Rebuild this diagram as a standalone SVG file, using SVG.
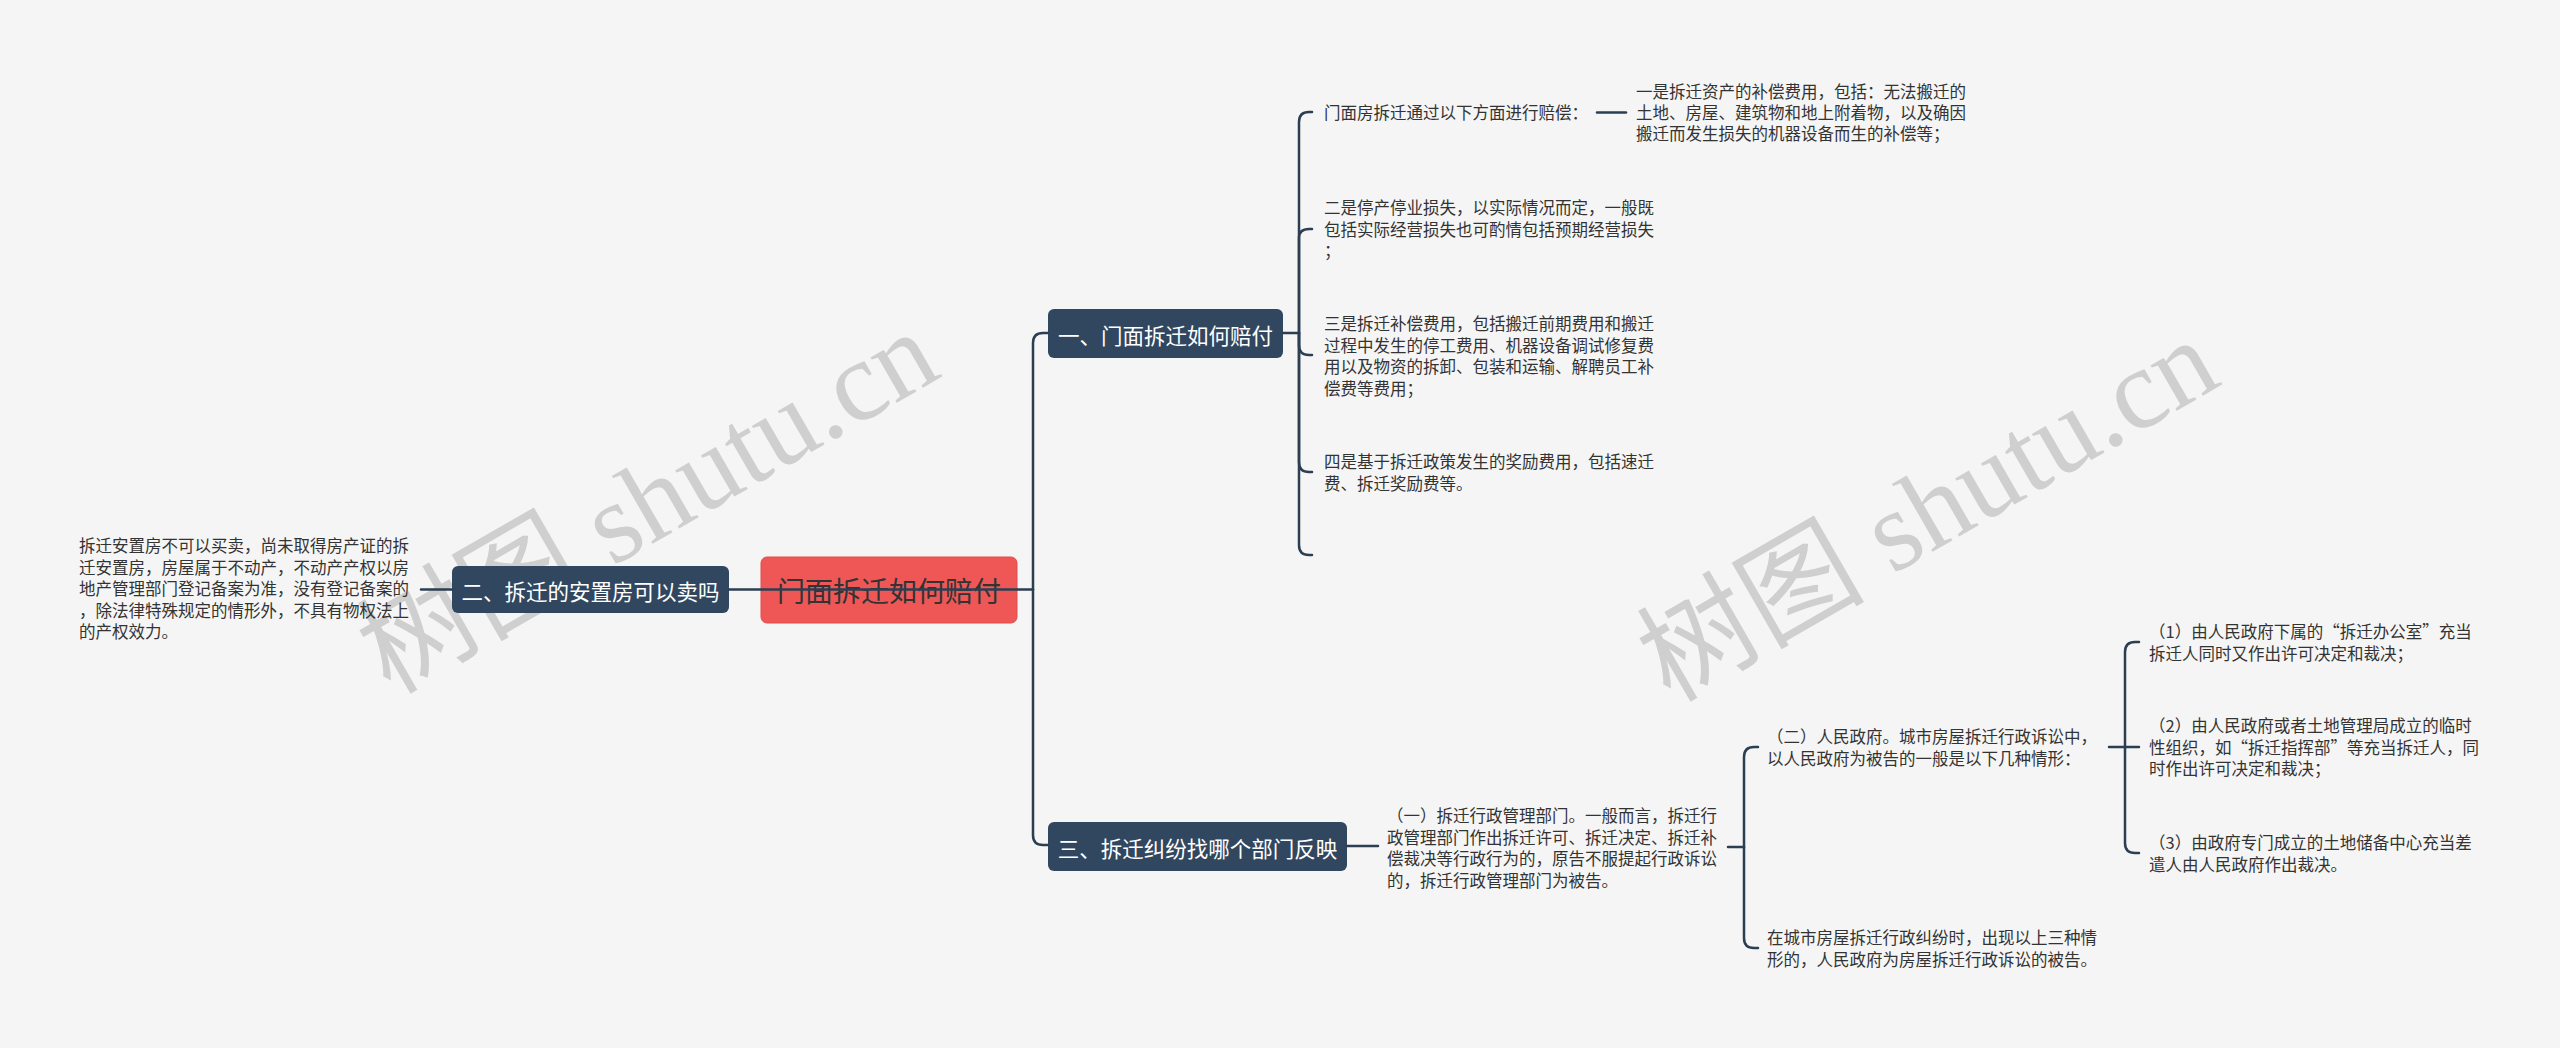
<svg xmlns="http://www.w3.org/2000/svg" width="2560" height="1048" viewBox="0 0 2560 1048">
<style>
.wm{font-family:"Liberation Serif","Noto Sans CJK SC",serif;font-size:114px;fill:#c9c9c9;opacity:0.85}
.leaf{font-family:"Noto Sans CJK SC","Noto Sans",sans-serif;font-size:16.5px;fill:#333}
.br{fill:#30475f}
.brt{font-family:"Noto Sans CJK SC","Noto Sans",sans-serif;font-size:21.5px;fill:#fff;text-anchor:middle;dominant-baseline:central}
.ct{font-family:"Noto Sans CJK SC","Noto Sans",sans-serif;font-size:28px;fill:#333;text-anchor:middle;dominant-baseline:central}
.ln{fill:none;stroke:#2b3e52;stroke-width:2.5;stroke-linecap:round}
</style>
<rect width="2560" height="1048" fill="#f5f5f5"/>
<g id="watermark">
<text class="wm" x="650" y="540" text-anchor="middle" transform="rotate(-30 650 506)">树图 shutu.cn</text>
<text class="wm" x="1930" y="548" text-anchor="middle" transform="rotate(-30 1930 514)">树图 shutu.cn</text>
</g>
<g id="root">
<rect x="761" y="557" width="256" height="66" rx="6" fill="#ef5757" stroke="#e34c4c" stroke-width="1"/>
<text class="ct" x="889" y="590">门面拆迁如何赔付</text>
</g>
<g id="b1">
<rect class="br" x="1048" y="309" width="235" height="49" rx="6"/>
<text class="brt" x="1165.5" y="334">一、门面拆迁如何赔付</text>
</g>
<g id="b2">
<rect class="br" x="452" y="566" width="277" height="47" rx="6"/>
<text class="brt" x="590.5" y="590">二、拆迁的安置房可以卖吗</text>
</g>
<g id="b3">
<rect class="br" x="1048" y="822" width="299" height="49" rx="6"/>
<text class="brt" x="1197.5" y="847">三、拆迁纠纷找哪个部门反映</text>
</g>
<g id="b2c1">
<text class="leaf"><tspan x="79" y="552">拆迁安置房不可以买卖，尚未取得房产证的拆</tspan><tspan x="79" y="573.5">迁安置房，房屋属于不动产，不动产产权以房</tspan><tspan x="79" y="595">地产管理部门登记备案为准，没有登记备案的</tspan><tspan x="79" y="616.5">，除法律特殊规定的情形外，不具有物权法上</tspan><tspan x="79" y="638">的产权效力。</tspan></text>
</g>
<g id="b1c1">
<text class="leaf" x="1324" y="119">门面房拆迁通过以下方面进行赔偿：</text>
</g>
<g id="b1c1c1">
<text class="leaf"><tspan x="1636" y="98">一是拆迁资产的补偿费用，包括：无法搬迁的</tspan><tspan x="1636" y="119">土地、房屋、建筑物和地上附着物，以及确因</tspan><tspan x="1636" y="140">搬迁而发生损失的机器设备而生的补偿等；</tspan></text>
</g>
<g id="b1c2">
<text class="leaf"><tspan x="1324" y="214">二是停产停业损失，以实际情况而定，一般既</tspan><tspan x="1324" y="235.5">包括实际经营损失也可酌情包括预期经营损失</tspan><tspan x="1324" y="257">；</tspan></text>
</g>
<g id="b1c3">
<text class="leaf"><tspan x="1324" y="330">三是拆迁补偿费用，包括搬迁前期费用和搬迁</tspan><tspan x="1324" y="351.5">过程中发生的停工费用、机器设备调试修复费</tspan><tspan x="1324" y="373">用以及物资的拆卸、包装和运输、解聘员工补</tspan><tspan x="1324" y="394.5">偿费等费用；</tspan></text>
</g>
<g id="b1c4">
<text class="leaf"><tspan x="1324" y="468">四是基于拆迁政策发生的奖励费用，包括速迁</tspan><tspan x="1324" y="489.5">费、拆迁奖励费等。</tspan></text>
</g>
<g id="b3c1">
<text class="leaf"><tspan x="1387" y="822">（一）拆迁行政管理部门。一般而言，拆迁行</tspan><tspan x="1387" y="843.5">政管理部门作出拆迁许可、拆迁决定、拆迁补</tspan><tspan x="1387" y="865">偿裁决等行政行为的，原告不服提起行政诉讼</tspan><tspan x="1387" y="886.5">的，拆迁行政管理部门为被告。</tspan></text>
</g>
<g id="b3c1c1">
<text class="leaf"><tspan x="1767" y="743">（二）人民政府。城市房屋拆迁行政诉讼中，</tspan><tspan x="1767" y="764.5">以人民政府为被告的一般是以下几种情形：</tspan></text>
</g>
<g id="b3c1c2">
<text class="leaf"><tspan x="1767" y="944">在城市房屋拆迁行政纠纷时，出现以上三种情</tspan><tspan x="1767" y="965.5">形的，人民政府为房屋拆迁行政诉讼的被告。</tspan></text>
</g>
<g id="g1">
<text class="leaf"><tspan x="2149" y="638">（1）由人民政府下属的“拆迁办公室”充当</tspan><tspan x="2149" y="659.5">拆迁人同时又作出许可决定和裁决；</tspan></text>
</g>
<g id="g2">
<text class="leaf"><tspan x="2149" y="732">（2）由人民政府或者土地管理局成立的临时</tspan><tspan x="2149" y="753.5">性组织，如“拆迁指挥部”等充当拆迁人，同</tspan><tspan x="2149" y="775">时作出许可决定和裁决；</tspan></text>
</g>
<g id="g3">
<text class="leaf"><tspan x="2149" y="849">（3）由政府专门成立的土地储备中心充当差</tspan><tspan x="2149" y="870.5">遣人由人民政府作出裁决。</tspan></text>
</g>
<g id="connectors">
<path class="ln" d="M729 589.5 H1033"/>
<path class="ln" d="M421 589.5 H452"/>
<path class="ln" d="M1033 589.5 V343 Q1033 333 1043 333 H1048"/>
<path class="ln" d="M1033 589.5 V835 Q1033 845 1043 845 H1048"/>
<path class="ln" d="M1283 333 H1299 V122 Q1299 112 1309 112 H1312"/>
<path class="ln" d="M1299 333 V238 Q1299 229 1309 229 H1312"/>
<path class="ln" d="M1299 333 V345 Q1299 355 1309 355 H1312"/>
<path class="ln" d="M1299 333 V462 Q1299 472 1309 472 H1312"/>
<path class="ln" d="M1299 333 V545 Q1299 555 1309 555 H1312"/>
<path class="ln" d="M1597 112.5 H1626"/>
<path class="ln" d="M1347 846 H1378"/>
<path class="ln" d="M1728 847 H1744 V757 Q1744 747 1754 747 H1758"/>
<path class="ln" d="M1744 847 V938 Q1744 948 1754 948 H1758"/>
<path class="ln" d="M2109 747 H2125 V652 Q2125 642 2135 642 H2139"/>
<path class="ln" d="M2125 747 H2139"/>
<path class="ln" d="M2125 747 V843 Q2125 853 2135 853 H2139"/>
</g>
</svg>
